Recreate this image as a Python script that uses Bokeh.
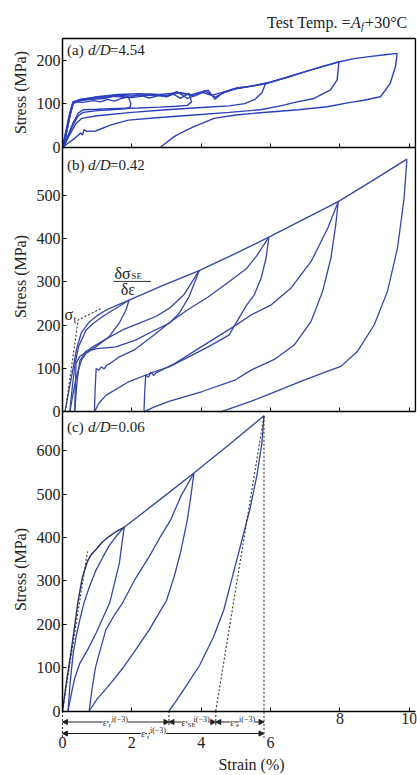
import math
from bokeh.plotting import figure
from bokeh.models import (LinearAxis, FixedTicker, Range1d, Label, Arrow,
                          NormalHead)
from bokeh.embed import file_html
from bokeh.resources import INLINE

FONT = "Liberation Serif"
BLUE = "#3646a6"
BLUE_A = "#2c40bd"
DARK = "#252d6c"
TXT = "#222222"

# ---------------- data: panel (a) d/D = 4.54 ----------------
a_load1_x = [0.0, 0.1, 0.2, 0.3, 0.4, 0.6, 0.9, 1.1, 1.3, 1.5, 1.7, 1.9]
a_load1_y = [0, 35, 72, 102, 104, 103, 107, 104, 110, 106, 112, 116]
a_unload1_x = [1.9, 1.97, 1.95, 1.8, 1.4, 1.0, 0.6, 0.45, 0.3, 0.15, 0.04]
a_unload1_y = [116, 100, 92, 88, 86, 84, 80, 72, 50, 22, 0]
a_load2_x = [0.04, 0.12, 0.22, 0.3, 0.45, 0.8, 1.2, 1.5, 1.9, 2.2, 2.5, 2.8, 3.0, 3.2, 3.4, 3.65]
a_load2_y = [0, 35, 75, 100, 106, 110, 112, 118, 114, 121, 113, 119, 116, 122, 112, 124]
a_unload2_x = [3.65, 3.72, 3.6, 3.3, 2.8, 2.2, 1.6, 1.0, 0.6, 0.45, 0.3, 0.15, 0.04]
a_unload2_y = [124, 104, 96, 94, 92, 90, 89, 87, 86, 78, 55, 25, 0]
a_load3_x = [0.04, 0.12, 0.22, 0.3, 0.5, 1.0, 1.5, 2.0, 2.5, 3.0, 3.3, 3.6, 3.9, 4.2, 4.4, 4.6, 4.9, 5.2, 5.5, 5.86]
a_load3_y = [0, 36, 74, 101, 108, 113, 117, 114, 120, 117, 128, 112, 121, 131, 110, 124, 133, 137, 141, 147]
a_unload3_x = [5.86, 5.75, 5.55, 5.25, 4.8, 4.0, 3.0, 2.0, 1.0, 0.55, 0.4, 0.25, 0.1, 0.0]
a_unload3_y = [147, 125, 110, 100, 95, 91, 86, 80, 72, 66, 55, 35, 12, 0]
a_load4_x = [0.0, 0.1, 0.2, 0.3, 0.5, 1.0, 1.5, 2.0, 2.5, 3.0, 3.4, 3.8, 4.1, 4.4, 4.7, 5.0, 5.4, 5.86, 6.3, 6.8, 7.3, 7.7, 7.97]
a_load4_y = [0, 38, 76, 104, 110, 115, 119, 118, 122, 119, 126, 118, 130, 115, 127, 134, 140, 146, 157, 169, 181, 190, 197]
a_unload4_x = [7.97, 7.92, 7.73, 7.25, 6.7, 6.29, 5.7, 4.8, 3.8, 2.8, 1.9, 1.4, 0.95, 0.7, 0.62, 0.58, 0.52, 0.35, 0.15, 0.02]
a_unload4_y = [197, 155, 132, 112, 103, 95, 86, 80, 74, 68, 62, 51, 37, 36, 40, 28, 32, 20, 8, 0]
a_load5_x = [0.02, 0.12, 0.22, 0.32, 0.5, 1.0, 1.6, 2.2, 2.8, 3.3, 3.7, 4.0, 4.3, 4.6, 5.0, 5.5, 6.0, 6.5, 7.0, 7.5, 7.97, 8.4, 8.9, 9.3, 9.65]
a_load5_y = [0, 36, 74, 102, 109, 116, 121, 123, 121, 125, 120, 127, 119, 126, 136, 141, 150, 161, 174, 186, 196, 204, 209, 213, 216]
a_unload5_x = [9.65, 9.6, 9.45, 9.17, 8.69, 8.3, 7.63, 6.8, 5.7, 5.0, 4.37, 3.79, 3.4, 3.22, 2.83]
a_unload5_y = [216, 185, 147, 116, 108, 103, 93, 86, 79, 74, 66, 47, 32, 24, 0]

# ---------------- data: panel (b) d/D = 0.42 ----------------
b_load1_x = [0.07, 0.15, 0.26, 0.40, 0.54, 0.78, 1.0, 1.26, 1.6, 1.92]
b_load1_y = [0, 35, 81, 143, 182, 208, 222, 235, 247, 258]
b_unload1_x = [1.92, 1.83, 1.63, 1.35, 0.96, 0.68, 0.55, 0.40, 0.30, 0.21]
b_unload1_y = [258, 235, 204, 174, 150, 135, 120, 81, 40, 0]
b_load2_x = [0.21, 0.28, 0.36, 0.46, 0.68, 0.9, 1.16, 1.4, 1.63, 1.92, 2.9, 3.94]
b_load2_y = [0, 55, 110, 150, 189, 205, 220, 232, 243, 258, 292, 326]
b_unload2_x = [3.94, 3.84, 3.65, 3.36, 3.07, 2.6, 2.12, 1.54, 1.0, 0.68, 0.5, 0.42, 0.35]
b_unload2_y = [326, 304, 266, 227, 204, 186, 166, 150, 146, 140, 118, 70, 0]
b_load3_x = [0.35, 0.37, 0.39, 0.5, 0.87, 1.3, 1.73, 2.2, 2.69, 3.1, 3.5, 3.94, 4.95, 5.95]
b_load3_y = [0, 55, 112, 128, 150, 170, 189, 204, 220, 240, 270, 326, 364, 403]
b_unload3_x = [5.95, 5.87, 5.73, 5.53, 5.3, 4.8, 4.2, 3.6, 3.07, 2.5, 1.92, 1.25, 1.05, 0.92]
b_unload3_y = [403, 355, 309, 270, 245, 177, 150, 125, 104, 88, 70, 38, 20, 0]
b_load4_x = [0.92, 0.94, 0.97, 1.05, 1.12, 1.2, 1.28, 1.34, 1.6, 2.07, 2.6, 3.07, 3.6, 4.2, 4.8, 5.3, 5.6, 5.95, 6.95, 7.95]
b_load4_y = [0, 50, 100, 96, 104, 99, 108, 110, 125, 143, 175, 205, 235, 265, 300, 330, 360, 403, 444, 485]
b_unload4_x = [7.95, 7.88, 7.74, 7.50, 7.17, 6.69, 6.11, 5.45, 4.99, 4.03, 3.07, 2.6, 2.35]
b_unload4_y = [485, 432, 355, 278, 209, 155, 121, 97, 74, 47, 24, 10, 0]
b_load5_x = [2.35, 2.37, 2.40, 2.48, 2.55, 2.62, 2.70, 2.75, 3.2, 4.0, 4.9, 5.45, 6.02, 6.59, 7.17, 7.65, 7.95, 8.95, 9.93]
b_load5_y = [0, 45, 85, 80, 92, 84, 90, 92, 110, 150, 195, 224, 247, 286, 347, 424, 485, 534, 583]
b_unload5_x = [9.93, 9.85, 9.66, 9.37, 8.99, 8.51, 8.03, 7.65, 6.89, 5.93, 5.45, 5.0, 4.56]
b_unload5_y = [583, 493, 378, 278, 201, 140, 105, 94, 71, 40, 25, 12, 0]
b_tangent_x = [0.08, 0.45, 1.1]
b_tangent_y = [0, 212, 238]

# ---------------- data: panel (c) d/D = 0.06 ----------------
c_load1_x = [0.0, 0.12, 0.24, 0.35, 0.44, 0.52, 0.58, 0.66, 0.72, 0.82, 0.96, 1.15, 1.35, 1.55, 1.78]
c_load1_y = [0, 70, 133, 195, 249, 285, 310, 330, 345, 360, 372, 390, 403, 414, 424]
c_unload1_x = [1.78, 1.72, 1.64, 1.5, 1.36, 1.15, 0.97, 0.75, 0.5, 0.35, 0.26, 0.16]
c_unload1_y = [424, 390, 341, 295, 249, 212, 180, 145, 110, 75, 41, 0]
c_load2_x = [0.16, 0.22, 0.31, 0.40, 0.50, 0.62, 0.78, 0.95, 1.17, 1.35, 1.55, 1.78, 2.8, 3.79]
c_load2_y = [0, 65, 134, 175, 210, 250, 287, 322, 356, 382, 403, 424, 487, 549]
c_unload2_x = [3.79, 3.7, 3.6, 3.41, 3.22, 3.0, 2.8, 2.5, 2.1, 1.73, 1.3, 1.0, 0.77]
c_unload2_y = [549, 495, 441, 368, 310, 255, 228, 187, 140, 98, 55, 28, 0]
c_load3_x = [0.77, 0.85, 0.95, 1.06, 1.25, 1.5, 1.73, 2.1, 2.5, 2.83, 3.12, 3.41, 3.79, 4.8, 5.81]
c_load3_y = [0, 50, 100, 133, 187, 222, 249, 305, 356, 403, 441, 495, 549, 614, 681]
c_unload3_x = [5.81, 5.75, 5.6, 5.4, 5.15, 4.9, 4.65, 4.35, 3.95, 3.5, 3.25, 3.07]
c_unload3_y = [681, 618, 541, 464, 387, 310, 233, 170, 105, 50, 20, 0]
c_tangent_x = [0.0, 0.72]
c_tangent_y = [0, 368]
c_elastic_x = [4.42, 5.81]
c_elastic_y = [0, 681]
eps_bounds = [0.0, 3.07, 4.42, 5.81]          # strain partition (%)
eps_parts = ["r", "SE", "e"]
eps_part_pos = [1.45, 3.72, 5.12]
eps_total = "t"
eps_total_pos = 2.55

# tick lists
x_ticks = [2, 4, 6, 8, 10]
x_ticks_low = [0, 2, 4, 6]
x_ticks_high = [8, 10]
a_yticks = [0, 100, 200]
b_yticks = [0, 100, 200, 300, 400, 500]
c_yticks = [0, 100, 200, 300, 400, 500, 600]

# ---------------- stacked layout (one frame holds three panels) ----------------
PX = 0.4335               # px per MPa
SX = 34.68                # px per % strain
MARGIN = 8
FW, FH = 408, 767
X_LO = -54 / SX
X_HI = X_LO + FW / SX
XMAX = 10.18              # right border of panels (a), (b)
C_TOP = 690
B_TOP = 611
A_TOP = 251
OB = C_TOP                # vertical offset of panel (b)
OA = OB + B_TOP           # vertical offset of panel (a)
A_END = OA + A_TOP
Y_HI = 702.5 / PX
Y_LO = Y_HI - FH / PX


def ypx(py):              # stacked-axis value of a picture row (layout helper)
    return (710.5 - py) / PX


ROW1, ROW2 = ypx(721.5), ypx(733)

p = figure(frame_width=FW, frame_height=FH, x_range=Range1d(X_LO, X_HI),
           y_range=Range1d(Y_LO, Y_HI), x_axis_location=None,
           y_axis_location=None, output_backend="svg",
           toolbar_location=None, min_border_left=MARGIN, min_border_right=1,
           min_border_top=MARGIN, min_border_bottom=0,
           background_fill_color="white", border_fill_color="white")
p.grid.visible = False
p.outline_line_color = None


def shift(vals, off):
    return [v + off for v in vals]


def lbl(x, y, text, size="15px", style="normal", xo=0, yo=0, bg=None,
        align="left", angle=0.0):
    p.add_layout(Label(x=x, y=y, text=text, x_offset=xo, y_offset=yo,
                       text_font=FONT, text_font_size=size,
                       text_font_style=style, text_color=TXT,
                       text_align=align, text_baseline="middle",
                       background_fill_color=bg, angle=angle))


def y_axis(ticks, off, top, label_y):
    ax = LinearAxis(ticker=FixedTicker(ticks=shift(ticks, off), minor_ticks=[]),
                    fixed_location=0, bounds=(off, off + top),
                    major_label_overrides={t + off: str(t) for t in ticks})
    ax.major_label_text_font = FONT
    ax.major_label_text_font_size = "16px"
    ax.major_label_text_color = TXT
    ax.major_label_standoff = 2
    ax.major_tick_in = 4
    ax.major_tick_out = 0
    ax.minor_tick_line_color = None
    ax.axis_line_width = 1.5
    p.add_layout(ax, "left")
    lbl(-42 / SX, label_y, "Stress (MPa)", size="16px", align="center",
        angle=math.pi / 2)


def rule_x(loc, minor, major=(), line=True):
    ax = LinearAxis(ticker=FixedTicker(ticks=list(major), minor_ticks=list(minor)),
                    fixed_location=loc, bounds=(0, XMAX))
    ax.major_tick_in = 4
    ax.major_tick_out = 0
    ax.minor_tick_in = 4
    ax.minor_tick_out = 0
    ax.axis_line_width = 1.5
    ax.major_label_text_font = FONT
    ax.major_label_text_font_size = "16px"
    ax.major_label_text_color = TXT
    ax.major_label_standoff = 2
    if not line:
        ax.axis_line_color = None
        ax.major_tick_line_color = None
        ax.major_label_standoff = 0
    p.add_layout(ax, "below")


def panel_label(y, tag, ratio):
    lbl(0.13, y, tag)
    lbl(0.13, y, "d/D", style="italic", xo=21)
    lbl(0.13, y, "=" + ratio, xo=43)


def curves(xs, ys, off, color, width=1.3):
    for x, y in zip(xs, ys):
        p.line(x, shift(y, off), line_color=color, line_width=width)


# axes / panel borders
y_axis(a_yticks, OA, A_TOP, ypx(92))
y_axis(b_yticks, OB, B_TOP, ypx(276))
y_axis(c_yticks, 0, C_TOP, ypx(569))
rule_x(A_END, [])
rule_x(OA, x_ticks)
rule_x(OB, x_ticks)
rule_x(0, x_ticks[:3], x_ticks_high)
rule_x(ypx(736), [], x_ticks_low, line=False)
right = LinearAxis(ticker=FixedTicker(ticks=[], minor_ticks=[]),
                   fixed_location=XMAX, bounds=(OB, A_END))
right.axis_line_width = 1.5
p.add_layout(right, "right")
lbl(5.45, ypx(764), "Strain (%)", size="16px", align="center")

# ---------------- panel (a) ----------------
curves([a_load1_x, a_unload1_x, a_load2_x, a_unload2_x, a_load3_x,
        a_unload3_x, a_load4_x, a_unload4_x, a_load5_x, a_unload5_x],
       [a_load1_y, a_unload1_y, a_load2_y, a_unload2_y, a_load3_y,
        a_unload3_y, a_load4_y, a_unload4_y, a_load5_y, a_unload5_y],
       OA, BLUE_A, 1.4)
panel_label(OA + 224, "(a) ", "4.54")
TY = ypx(22)
TX = 5.9
lbl(TX, TY, "Test Temp. =", size="16px")
lbl(TX, TY, "A", size="16px", style="italic", xo=84)
lbl(TX, TY, "f", size="10px", style="italic", xo=94, yo=-4)
lbl(TX, TY, "+30°C", size="16px", xo=98)

# ---------------- panel (b) ----------------
curves([b_load1_x, b_unload1_x, b_load2_x, b_unload2_x, b_load3_x,
        b_unload3_x, b_load4_x, b_unload4_x, b_load5_x, b_unload5_x],
       [b_load1_y, b_unload1_y, b_load2_y, b_unload2_y, b_load3_y,
        b_unload3_y, b_load4_y, b_unload4_y, b_load5_y, b_unload5_y],
       OB, BLUE)
DOT = dict(line_color="#333333", line_width=1.1, line_dash="2 2")
p.line(b_tangent_x, shift(b_tangent_y, OB), **DOT)
panel_label(OB + 570, "(b) ", "0.42")
lbl(0.06, OB + 224, "σ", size="16px")
lbl(0.06, OB + 224, "t", size="10px", xo=9, yo=-5)
lbl(1.5, OB + 320, "δσ", size="16px")
lbl(1.5, OB + 320, "SE", size="9px", xo=17, yo=-3)
p.line([1.47, 2.55], [OB + 301, OB + 301], line_color="#333333", line_width=1)
lbl(1.68, OB + 283, "δε", size="16px")

# ---------------- panel (c) ----------------
curves([c_unload1_x, c_load2_x, c_unload2_x, c_load3_x, c_unload3_x],
       [c_unload1_y, c_load2_y, c_unload2_y, c_load3_y, c_unload3_y],
       0, BLUE)
p.line(c_load1_x, c_load1_y, line_color=DARK, line_width=1.4)
p.line(c_tangent_x, c_tangent_y, **DOT)
p.line(c_elastic_x, c_elastic_y, **DOT)
p.segment(x0=[eps_bounds[0], eps_bounds[3]], y0=[0, c_elastic_y[1]],
          x1=[eps_bounds[0], eps_bounds[3]], y1=[ROW2 - 10, ROW2 - 10], **DOT)
p.segment(x0=eps_bounds[1:3], y0=[0, 0], x1=eps_bounds[1:3],
          y1=[ROW1 - 10, ROW1 - 10], **DOT)
panel_label(655, "(c) ", "0.06")


def darrow(x0, x1, y):
    head = dict(size=5, line_width=1, fill_color="#222222", line_color="#222222")
    p.add_layout(Arrow(x_start=x0, y_start=y, x_end=x1, y_end=y,
                       line_width=1, line_color="#222222",
                       start=NormalHead(**head), end=NormalHead(**head)))


def eps_label(x, y, sub):
    lbl(x, y, "ε", size="10px", xo=-10, bg="white")
    lbl(x, y, sub, size="7px", xo=-4, yo=-3, bg="white")
    lbl(x, y, "i(−3)", size="8px", xo=-4 + 3 * len(sub), yo=3, bg="white")


for i, sub in enumerate(eps_parts):
    darrow(eps_bounds[i], eps_bounds[i + 1], ROW1)
    eps_label(eps_part_pos[i], ROW1, sub)
darrow(eps_bounds[0], eps_bounds[3], ROW2)
eps_label(eps_total_pos, ROW2, eps_total)

open("out.html", "w").write(file_html(p, INLINE))
